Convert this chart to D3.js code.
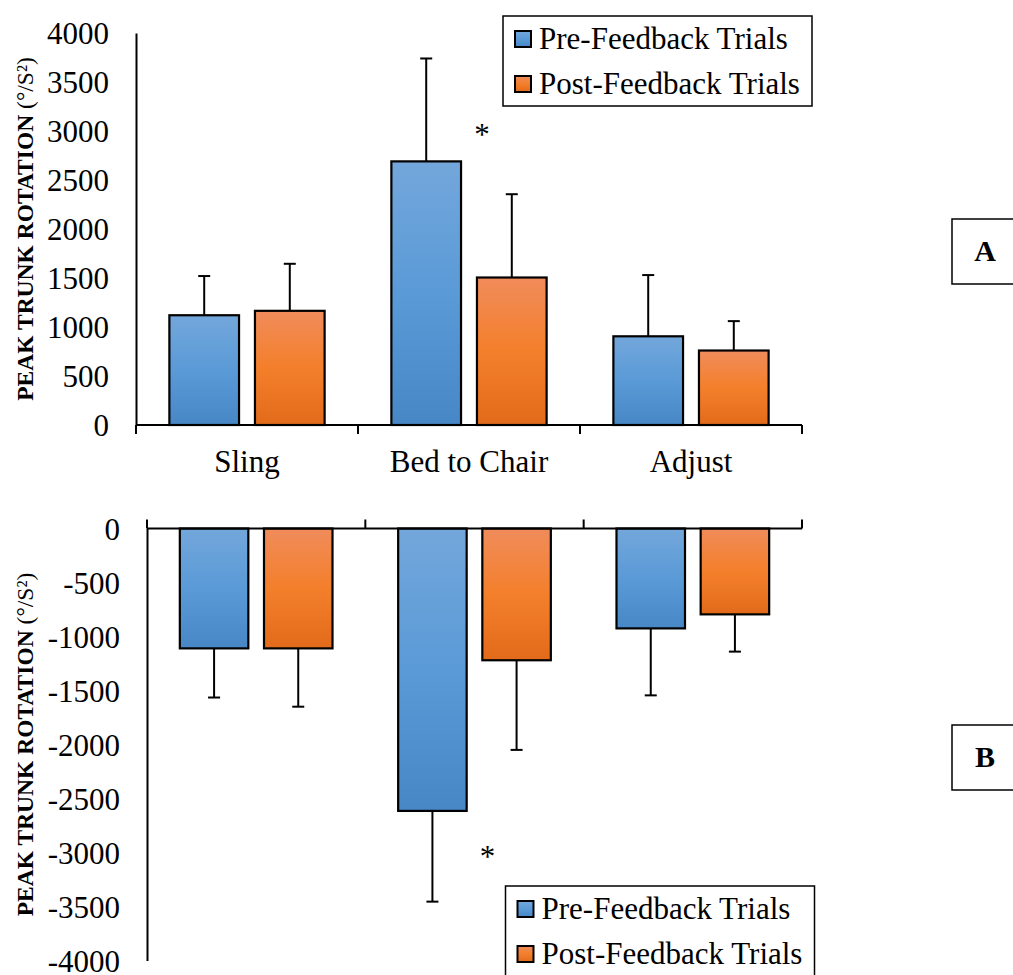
<!DOCTYPE html>
<html>
<head>
<meta charset="utf-8">
<script src="https://cdn.jsdelivr.net/npm/d3@7"></script>
<style>
  body { margin: 0; background: #fff; }
  text { font-family: "Liberation Serif", "Times New Roman", serif; fill: #000; }
</style>
</head>
<body>
<script>
// data
var categories = ["Sling", "Bed to Chair", "Adjust"];
var series = ["Pre-Feedback Trials", "Post-Feedback Trials"];

// panel A (positive peaks)
var preA = [1120, 2690, 905];
var postA = [1165, 1505, 760];
var preErrA = [400, 1050, 625];
var postErrA = [480, 850, 300];

// panel B (negative peaks)
var preB = [-1110, -2615, -925];
var postB = [-1110, -1220, -795];
var preErrB = [455, 840, 620];
var postErrB = [540, 830, 345];

var ticksA = [0, 500, 1000, 1500, 2000, 2500, 3000, 3500, 4000];
var ticksB = [0, -500, -1000, -1500, -2000, -2500, -3000, -3500, -4000];

var sigA = [{cat: "Bed to Chair", value: 3000}];
var sigB = [{cat: "Bed to Chair", value: -3000}];

var yTitle = "PEAK TRUNK ROTATION";
var yUnit = " (°/S²)";

var width = 1013, height = 975;
var colors = {"Pre-Feedback Trials": "gradBlue", "Post-Feedback Trials": "gradOrange"};

var svg = d3.select("body").append("svg")
  .attr("width", width)
  .attr("height", height);

// excel-like vertical gradients
var defs = svg.append("defs");
function grad(id, stops){
  var g = defs.append("linearGradient").attr("id", id)
    .attr("x1", 0).attr("y1", 0).attr("x2", 0).attr("y2", 1);
  stops.forEach(function(s){
    g.append("stop").attr("offset", s[0]).attr("stop-color", s[1]);
  });
}
grad("gradBlue", [[0, "#73a7db"], [0.5, "#5a9ad7"], [1, "#4787c6"]]);
grad("gradOrange", [[0, "#f08c5b"], [0.5, "#f47f2b"], [1, "#e26b1b"]]);

function rows(pre, post, preErr, postErr){
  return categories.map(function(c, i){
    return [
      {cat: c, s: series[0], v: pre[i], e: preErr[i]},
      {cat: c, s: series[1], v: post[i], e: postErr[i]}
    ];
  });
}

function panel(opt){
  var g = svg.append("g");
  var x = d3.scaleBand().domain(categories).range([opt.x0, opt.x1]);
  var xs = d3.scaleBand().domain(series).range([0, x.bandwidth()])
    .paddingInner(0.186).paddingOuter(0.39);
  var y = d3.scaleLinear().domain(opt.domain).range(opt.yRange);

  // y axis (plain numbers, hyphen minus like the original)
  var ya = g.append("g").attr("transform", "translate(" + opt.x0 + ",0)")
    .call(d3.axisLeft(y).tickValues(opt.ticks).tickSize(0).tickPadding(27)
      .tickSizeOuter(0).tickFormat(function(d){ return String(d); }));
  ya.select(".domain").attr("stroke", "#000").attr("stroke-width", 2);
  ya.selectAll("text").attr("font-size", 31).attr("dy", "0.34em");

  // bars
  var grp = g.selectAll("g.cat").data(rows(opt.pre, opt.post, opt.preErr, opt.postErr))
    .enter().append("g").attr("class", "cat")
    .attr("transform", function(d){ return "translate(" + x(d[0].cat) + ",0)"; });

  grp.selectAll("rect").data(function(d){ return d; })
    .enter().append("rect")
    .attr("x", function(d){ return xs(d.s); })
    .attr("width", xs.bandwidth())
    .attr("y", function(d){ return y(Math.max(0, d.v)); })
    .attr("height", function(d){ return Math.abs(y(d.v) - y(0)); })
    .attr("fill", function(d){ return "url(#" + colors[d.s] + ")"; })
    .attr("stroke", "#000").attr("stroke-width", 2.2);

  // error bars (one-sided, away from zero)
  var eb = grp.selectAll("g.err").data(function(d){ return d; })
    .enter().append("g").attr("class", "err")
    .attr("stroke", "#000").attr("stroke-width", 2);
  eb.append("line")
    .attr("x1", function(d){ return xs(d.s) + xs.bandwidth()/2; })
    .attr("x2", function(d){ return xs(d.s) + xs.bandwidth()/2; })
    .attr("y1", function(d){ return y(d.v); })
    .attr("y2", function(d){ return y(d.v + Math.sign(d.v) * d.e); });
  eb.append("line")
    .attr("x1", function(d){ return xs(d.s) + xs.bandwidth()/2 - 6; })
    .attr("x2", function(d){ return xs(d.s) + xs.bandwidth()/2 + 6; })
    .attr("y1", function(d){ return y(d.v + Math.sign(d.v) * d.e); })
    .attr("y2", function(d){ return y(d.v + Math.sign(d.v) * d.e); });

  // category axis at zero
  var y0 = y(0);
  g.append("line").attr("x1", opt.x0).attr("x2", opt.x1)
    .attr("y1", y0).attr("y2", y0)
    .attr("stroke", "#000").attr("stroke-width", 2);
  var bounds = categories.map(function(c){ return x(c); }).concat([opt.x1]);
  g.selectAll("line.xt").data(bounds).enter().append("line").attr("class", "xt")
    .attr("x1", function(d){ return d; }).attr("x2", function(d){ return d; })
    .attr("y1", y0).attr("y2", y0 + opt.tickDir * 9)
    .attr("stroke", "#000").attr("stroke-width", 2);

  if (opt.labels) {
    g.selectAll("text.cat").data(categories).enter().append("text").attr("class", "cat")
      .attr("x", function(d){ return x(d) + x.bandwidth()/2; })
      .attr("y", y0 + 47)
      .attr("text-anchor", "middle").attr("font-size", 31)
      .text(function(d){ return d; });
  }

  // significance marks
  g.selectAll("text.sig").data(opt.sig).enter().append("text").attr("class", "sig")
    .attr("x", function(d){ return x(d.cat) + x.bandwidth()/2 + 13; })
    .attr("y", function(d){ return y(d.value) + 14; })
    .attr("text-anchor", "middle").attr("font-size", 31)
    .text("*");

  // y title
  var t = g.append("text")
    .attr("transform", "translate(33," + ((opt.yRange[0] + opt.yRange[1]) / 2) + ") rotate(-90)")
    .attr("text-anchor", "middle").attr("font-size", 23.5);
  t.append("tspan").attr("font-weight", "bold").text(yTitle);
  t.append("tspan").text(yUnit);

  // legend
  var lg = g.append("g").attr("transform", "translate(" + opt.legend[0] + "," + opt.legend[1] + ")");
  lg.append("rect").attr("width", 309).attr("height", 90)
    .attr("fill", "#fff").attr("stroke", "#000").attr("stroke-width", 1.5);
  var li = lg.selectAll("g.li").data(series).enter().append("g").attr("class", "li")
    .attr("transform", function(d, i){ return "translate(12," + (15 + i * 45) + ")"; });
  li.append("rect").attr("width", 16).attr("height", 16)
    .attr("fill", function(d){ return "url(#" + colors[d] + ")"; })
    .attr("stroke", "#000").attr("stroke-width", 2);
  li.append("text").attr("x", 24).attr("y", 18).attr("font-size", 31)
    .text(function(d){ return d; });

  // panel tag
  var tag = g.append("g").attr("transform", "translate(952," + opt.tag[1] + ")");
  tag.append("rect").attr("width", 80).attr("height", 65)
    .attr("fill", "#fff").attr("stroke", "#000").attr("stroke-width", 1.5);
  tag.append("text").attr("x", 33).attr("y", 42).attr("text-anchor", "middle")
    .attr("font-size", 30).attr("font-weight", "bold").text(opt.tag[0]);
}

panel({
  x0: 136, x1: 802, domain: [0, 4000], yRange: [425, 33], ticks: ticksA,
  pre: preA, post: postA, preErr: preErrA, postErr: postErrA,
  tickDir: 1, labels: true, sig: sigA, legend: [503, 16], tag: ["A", 219]
});

panel({
  x0: 147, x1: 802, domain: [-4000, 0], yRange: [960.5, 528.5], ticks: ticksB,
  pre: preB, post: postB, preErr: preErrB, postErr: postErrB,
  tickDir: -1, labels: false, sig: sigB, legend: [505.5, 886], tag: ["B", 725]
});
</script>
</body>
</html>
